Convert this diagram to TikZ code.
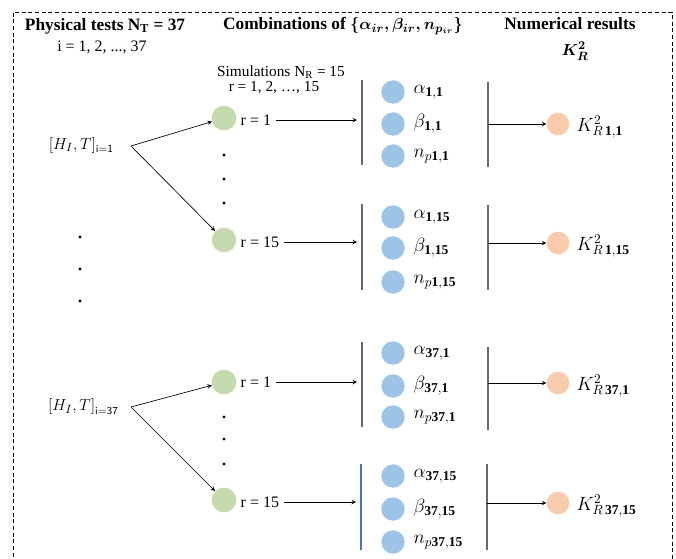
\documentclass[tikz,border=0pt]{standalone}
\usepackage{fontspec}
\setmainfont{Liberation Serif}
\definecolor{simgreen}{RGB}{197,219,175}
\definecolor{parblue}{RGB}{157,195,230}
\definecolor{resorange}{RGB}{248,203,173}
\definecolor{bargray}{RGB}{105,105,105}
\definecolor{barblue}{RGB}{68,114,196}
\begin{document}
\begin{tikzpicture}[x=0.75pt, y=-0.75pt,
    head/.style={font=\fontsize{13}{15}\selectfont\bfseries\boldmath},
    plain/.style={font=\fontsize{12}{14}\selectfont},
    sim/.style={circle, fill=simgreen, minimum size=18.5pt, inner sep=0pt},
    parc/.style={circle, fill=parblue, minimum size=17.5pt, inner sep=0pt},
    res/.style={circle, fill=resorange, minimum size=17pt, inner sep=0pt},
    lab/.style={anchor=west, font=\fontsize{12}{14}\selectfont},
    mlab/.style={anchor=west, font=\fontsize{14.5}{16}\selectfont},
    bar/.style={draw=bargray, line width=0.8pt},
    dot/.style={circle, fill=black, inner sep=0pt, minimum size=2.5pt},
    arr/.style={->, >=stealth, line width=0.5pt}
]
  \useasboundingbox (0,0) rectangle (676,558);
  \clip (0,0) rectangle (676,558);

  % Frame
  \draw[dash pattern=on 3pt off 2pt, line width=0.6pt]
       (13,570) -- (13,12) -- (672,12) -- (672,570);

  % Headings
  \node[head] (phys) at (105,26) {Physical tests N\textsubscript{T} = 37};
  \node[plain] (irange) at (102,47) {i = 1, 2, ..., 37};
  \node[head] (comb) at (343,26)
       {Combinations of $\lbrace\alpha_{ir},\beta_{ir},n_{p_{ir}}\rbrace$};
  \node[head] (numres) at (570,24) {Numerical results};
  \node[head, inner sep=1pt] (kr) at (575,51) {$K_R^2$};
  \node[plain, font=\fontsize{11.5}{13}\selectfont] (simn) at (281,72)
       {Simulations N\textsubscript{R} = 15};
  \node[plain, font=\fontsize{11.5}{13}\selectfont] (rrange) at (274,88)
       {r = 1, 2, …, 15};

  % Test i = 1
  \node[plain, font=\fontsize{13}{15}\selectfont] (test1) at (81,145)
       {$[H_I,T]$\raisebox{-0.5ex}{\fontsize{8}{9}\sffamily i=1}};
  \coordinate (fork1) at (131,146);
  \node[sim] (s1a) at (224,118) {};
  \node[sim] (s1b) at (224,240) {};
  \draw[arr] (fork1) -- (s1a);
  \draw[arr] (fork1) -- (s1b);
  \node[lab] (r1a) at (236,120) {r = 1};
  \node[lab] (r1b) at (236,242) {r = 15};
  \node[dot] at (224,155) {};
  \node[dot] at (224,179) {};
  \node[dot] at (224,203) {};

  % Parameters 1,1
  \coordinate (in1a) at (357,120);
  \draw[arr] (r1a) -- (in1a);
  \draw[bar] (362,80) -- (362,165);
  \node[parc] (p1a1) at (393,92) {};
  \node[parc] (p1a2) at (393,124) {};
  \node[parc] (p1a3) at (393,156) {};
  \node[mlab] at (409,92) {$\alpha_{\mathbf{1,1}}$};
  \node[mlab] at (409,124) {$\beta_{\mathbf{1,1}}$};
  \node[mlab] at (409,156) {$n_{p\mathbf{1,1}}$};
  \draw[bar] (488,82) -- (488,167);
  \coordinate (out1a) at (488,124);
  \node[res] (k1a) at (558,124) {};
  \draw[arr] (out1a) -- (k1a);
  \node[mlab] at (572,127) {$K^2_{R\,\mathbf{1,1}}$};

  % Parameters 1,15
  \coordinate (in1b) at (357,242);
  \draw[arr] (r1b) -- (in1b);
  \draw[bar] (362,204) -- (362,290);
  \node[parc] (p1b1) at (393,217) {};
  \node[parc] (p1b2) at (393,248) {};
  \node[parc] (p1b3) at (393,282) {};
  \node[mlab] at (409,217) {$\alpha_{\mathbf{1,15}}$};
  \node[mlab] at (409,248) {$\beta_{\mathbf{1,15}}$};
  \node[mlab] at (409,282) {$n_{p\mathbf{1,15}}$};
  \draw[bar] (488,205) -- (488,290);
  \coordinate (out1b) at (488,243);
  \node[res] (k1b) at (558,243) {};
  \draw[arr] (out1b) -- (k1b);
  \node[mlab] at (572,246) {$K^2_{R\,\mathbf{1,15}}$};

  % Tests in between
  \node[dot] at (80,237) {};
  \node[dot] at (80,269) {};
  \node[dot] at (80,301) {};

  % Test i = 37
  \node[plain, font=\fontsize{13}{15}\selectfont] (test37) at (83,407)
       {$[H_I,T]$\raisebox{-0.5ex}{\fontsize{8}{9}\sffamily i=37}};
  \coordinate (fork37) at (131,407);
  \node[sim] (s37a) at (224,382) {};
  \node[sim] (s37b) at (224,500) {};
  \draw[arr] (fork37) -- (s37a);
  \draw[arr] (fork37) -- (s37b);
  \node[lab] (r37a) at (236,382) {r = 1};
  \node[lab] (r37b) at (236,502) {r = 15};
  \node[dot] at (224,417) {};
  \node[dot] at (224,439) {};
  \node[dot] at (224,464) {};

  % Parameters 37,1
  \coordinate (in37a) at (357,382);
  \draw[arr] (r37a) -- (in37a);
  \draw[bar] (362,342) -- (362,427);
  \node[parc] (p37a1) at (393,353) {};
  \node[parc] (p37a2) at (393,386) {};
  \node[parc] (p37a3) at (393,417) {};
  \node[mlab] at (409,353) {$\alpha_{\mathbf{37,1}}$};
  \node[mlab] at (409,386) {$\beta_{\mathbf{37,1}}$};
  \node[mlab] at (409,417) {$n_{p\mathbf{37,1}}$};
  \draw[bar] (488,347) -- (488,430);
  \coordinate (out37a) at (488,383);
  \node[res] (k37a) at (558,383) {};
  \draw[arr] (out37a) -- (k37a);
  \node[mlab] at (572,386) {$K^2_{R\,\mathbf{37,1}}$};

  % Parameters 37,15
  \coordinate (in37b) at (356,502);
  \draw[arr] (r37b) -- (in37b);
  \draw[bar, draw=barblue] (361,464) -- (361,550);
  \node[parc] (p37b1) at (393,476) {};
  \node[parc] (p37b2) at (393,509) {};
  \node[parc] (p37b3) at (393,542) {};
  \node[mlab] at (409,476) {$\alpha_{\mathbf{37,15}}$};
  \node[mlab] at (409,509) {$\beta_{\mathbf{37,15}}$};
  \node[mlab] at (409,542) {$n_{p\mathbf{37,15}}$};
  \draw[bar] (487,464) -- (487,550);
  \coordinate (out37b) at (487,503);
  \node[res] (k37b) at (558,503) {};
  \draw[arr] (out37b) -- (k37b);
  \node[mlab] at (572,506) {$K^2_{R\,\mathbf{37,15}}$};
\end{tikzpicture}
\end{document}
